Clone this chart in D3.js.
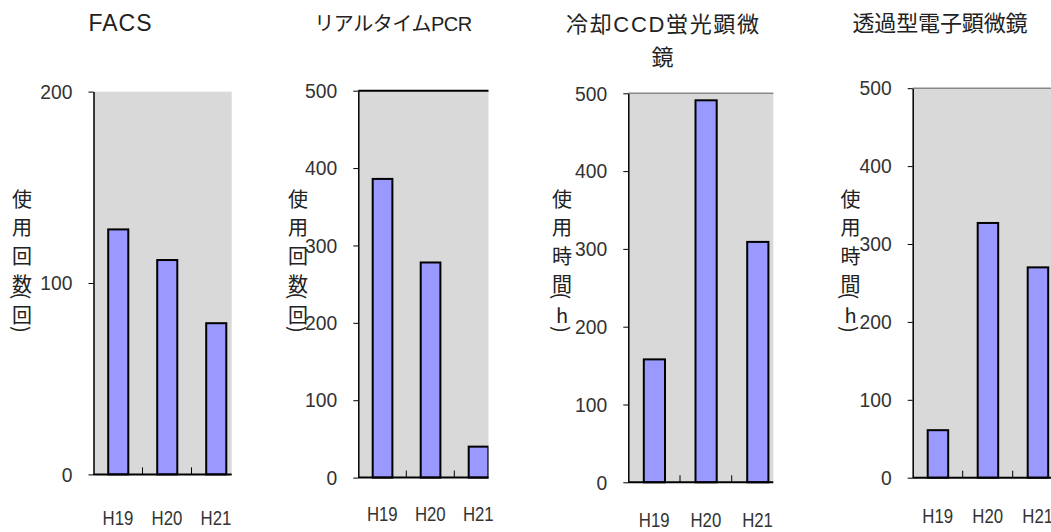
<!DOCTYPE html>
<html>
<head>
<meta charset="utf-8">
<script src="https://cdn.jsdelivr.net/npm/d3@7"></script>
<style>
body { margin: 0; background: #fff; }
.num { font-family: "Liberation Sans", Arial, sans-serif; font-size: 21px; fill: #333; }
.title { font-family: "Liberation Sans", "Noto Sans CJK JP", sans-serif; fill: #222; }
.ytitle { font-family: "Noto Sans CJK JP", sans-serif; font-size: 20px; fill: #222; }
</style>
</head>
<body>
<script>
var categories = ["H19", "H20", "H21"],
	titles = [["FACS"], ["リアルタイムPCR"], ["冷却CCD蛍光顕微", "鏡"], ["透過型電子顕微鏡"]],
	yTitles = ["使用回数(回)", "使用回数(回)", "使用時間(h)", "使用時間(h)"],
	facsCounts = [128, 112, 79],
	pcrCounts = [386, 278, 40],
	ccdHours = [158, 491, 309],
	temHours = [61, 327, 270],
	facsTicks = [0, 100, 200],
	hourTicks = [0, 100, 200, 300, 400, 500];

// layout of the four little charts (pixels)
var panels = [
	{ values: facsCounts, ticks: facsTicks, left: 93.5, band: 49, top: 91.6, bottom: 474.4, right: 231.7, frame: null, titleX: 120, titleY: 23, titleLen: 63, titleSize: 23, yTitleX: 22, labelY: 518 },
	{ values: pcrCounts, ticks: hourTicks, left: 358.3, band: 48, top: 90.7, bottom: 477.6, right: 488.5, frame: "#000", titleX: 393.3, titleY: 24, titleLen: 158, titleSize: 20, yTitleX: 298, labelY: 514 },
	{ values: ccdHours, ticks: hourTicks, left: 628.3, band: 51.7, top: 93.3, bottom: 482.3, right: 773.3, frame: "#888", titleX: 662.5, titleY: 24, titleLen: 193, titleSize: 22, yTitleX: 562, labelY: 520 },
	{ values: temHours, ticks: hourTicks, left: 912.7, band: 50, top: 88.2, bottom: 477.7, right: 1051, frame: "#888", titleX: 940, titleY: 23, titleLen: 175, titleSize: 22, yTitleX: 850.5, labelY: 516 }
];

var svg = d3.select("body").append("svg")
	.attr("width", 1051)
	.attr("height", 532);

panels.forEach(function (p, k) {
	var x = d3.scaleBand()
		.domain(categories)
		.range([p.left, p.left + p.band * categories.length]);
	var y = d3.scaleLinear()
		.domain([0, d3.max(p.ticks)])
		.range([p.bottom, p.top]);

	var g = svg.append("g");

	svg.append("clipPath")
		.attr("id", "clip" + k)
		.append("rect")
		.attr("x", 0)
		.attr("y", 0)
		.attr("width", p.right)
		.attr("height", 532);

	var plot = g.append("g").attr("clip-path", "url(#clip" + k + ")");

	plot.append("rect")
		.attr("x", x.range()[0])
		.attr("y", y.range()[1])
		.attr("width", x.range()[1] - x.range()[0])
		.attr("height", y.range()[0] - y.range()[1])
		.style("fill", "#d9d9d9");

	if (p.frame) {
		plot.append("line")
			.attr("x1", x.range()[0])
			.attr("x2", x.range()[1])
			.attr("y1", y.range()[1])
			.attr("y2", y.range()[1])
			.style("stroke", p.frame)
			.style("stroke-width", p.frame == "#000" ? 2 : 1.5);
	}

	plot.selectAll(".bar")
		.data(p.values)
		.enter().append("rect")
		.attr("class", "bar")
		.attr("x", function (d, i) { return x(categories[i]) + x.bandwidth() * 0.3; })
		.attr("y", function (d) { return y(d); })
		.attr("width", x.bandwidth() * 0.41)
		.attr("height", function (d) { return y(0) - y(d); })
		.style("fill", "#9999ff")
		.style("stroke", "#000")
		.style("stroke-width", 2);

	plot.append("line")
		.attr("x1", x.range()[0])
		.attr("x2", x.range()[1])
		.attr("y1", y(0))
		.attr("y2", y(0))
		.style("stroke", "#000")
		.style("stroke-width", 2);

	// small ticks between the categories
	plot.selectAll(".ctick")
		.data(categories.slice(1))
		.enter().append("line")
		.attr("class", "ctick")
		.attr("x1", function (d) { return x(d); })
		.attr("x2", function (d) { return x(d); })
		.attr("y1", y(0))
		.attr("y2", y(0) - 7)
		.style("stroke", "#000")
		.style("stroke-width", 1);

	var yAxis = g.append("g")
		.attr("transform", "translate(" + p.left + ",0)")
		.call(d3.axisLeft(y).tickValues(p.ticks).tickSize(5).tickSizeOuter(0).tickPadding(16))
		.attr("font-size", null)
		.attr("font-family", null);
	yAxis.select(".domain").style("stroke", "#000").style("stroke-width", 1.5);
	yAxis.selectAll(".tick line").style("stroke", "#000");
	yAxis.selectAll("text")
		.attr("class", "num")
		.attr("x", -21 / 0.92)
		.attr("transform", "scale(0.92,1)");

	g.selectAll(".xlabel")
		.data(categories)
		.enter().append("text")
		.attr("class", "num xlabel")
		.attr("transform", function (d) {
			return "translate(" + (x(d) + x.bandwidth() / 2) + "," + p.labelY + ") scale(0.8,1)";
		})
		.attr("dominant-baseline", "central")
		.style("text-anchor", "middle")
		.text(function (d) { return d; });

	g.selectAll(".title")
		.data(titles[k])
		.enter().append("text")
		.attr("class", "title")
		.attr("x", p.titleX)
		.attr("y", function (d, i) { return p.titleY + i * 33; })
		.attr("dominant-baseline", "central")
		.style("text-anchor", "middle")
		.style("font-size", p.titleSize + "px")
		.attr("textLength", function (d, i) { return i == 0 ? p.titleLen : null; })
		.attr("lengthAdjust", "spacing")
		.text(function (d) { return d; });

	// vertical axis title, one character per line, brackets turned
	var chars = Array.from(yTitles[k]), cy = 198.5, pos = [];
	chars.forEach(function (c, i) {
		if (i > 0) {
			var prev = chars[i - 1];
			if (c == "(") cy += 12.5;
			else if (c == ")") cy += 14.5;
			else if (prev == "(") cy += 19;
			else cy += 28.3;
		}
		pos.push(cy);
	});
	g.selectAll(".ychar")
		.data(chars)
		.enter().append("text")
		.attr("class", "ytitle ychar")
		.attr("dominant-baseline", "central")
		.style("text-anchor", "middle")
		.attr("transform", function (d, i) {
			var t = "translate(" + p.yTitleX + "," + pos[i] + ")";
			return (d == "(" || d == ")") ? t + " rotate(90)" : t;
		})
		.text(function (d) { return d; });
});
</script>
</body>
</html>
